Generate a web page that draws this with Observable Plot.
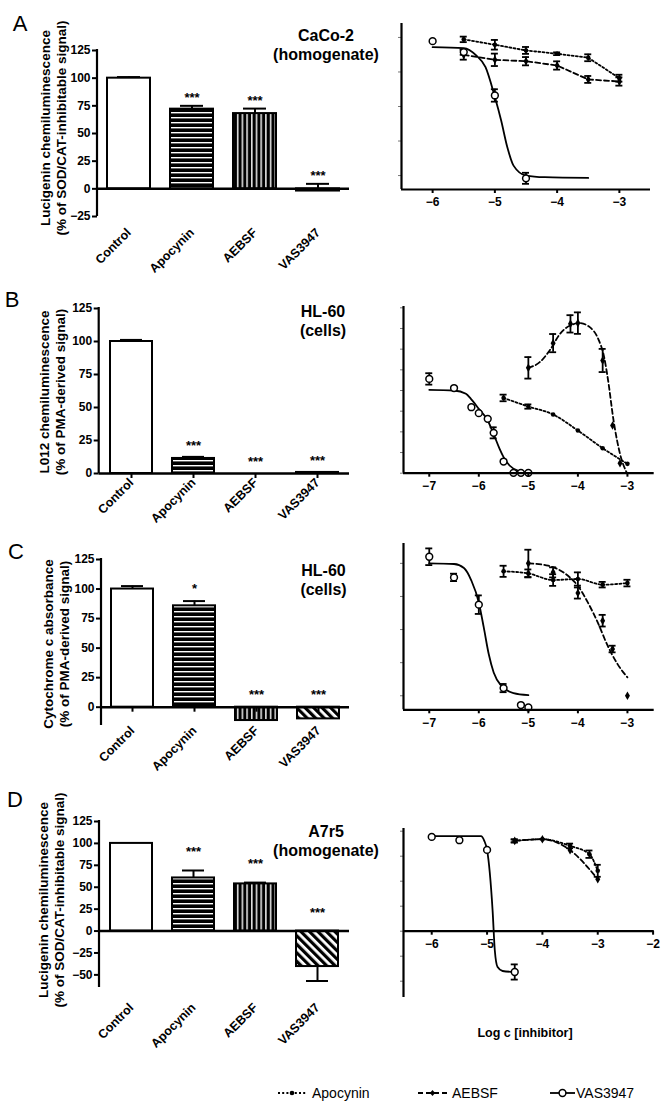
<!DOCTYPE html>
<html><head><meta charset="utf-8">
<script src="https://cdn.jsdelivr.net/npm/d3@7"></script>
<script src="https://cdn.jsdelivr.net/npm/@observablehq/plot@0.6"></script>
<style>
body{margin:0;background:#fff;}
#fig{position:relative;width:664px;height:1113px;background:#fff;font-family:'Liberation Sans',Arial,Helvetica,sans-serif;color:#000;overflow:hidden}
#fig svg{position:absolute;overflow:visible}
.abs{position:absolute;white-space:nowrap}
.title{font-weight:bold;font-size:16px;line-height:19px;text-align:center;transform:translateX(-50%)}
.ylab{font-weight:bold;font-size:13.5px;line-height:16px;text-align:center;transform:translate(-50%,-50%) rotate(-90deg)}
.letter{font-size:22px;line-height:22px;transform:translate(-50%,-50%)}
.leg{font-size:14px;line-height:16px;transform:translateY(-50%)}
</style></head><body>
<svg width="0" height="0" style="position:absolute"><defs>
<pattern id="pApo" patternUnits="userSpaceOnUse" width="8" height="5"><rect width="8" height="5" fill="#000"/><rect y="2" width="8" height="1.4" fill="#fff"/></pattern>
<pattern id="pAeb" patternUnits="userSpaceOnUse" width="4.7" height="8"><rect width="4.7" height="8" fill="#000"/><rect x="2" width="1.4" height="8" fill="#fff"/></pattern>
<pattern id="pVas" patternUnits="userSpaceOnUse" width="6" height="6" patternTransform="rotate(-45)"><rect width="6" height="6" fill="#fff"/><rect width="3.2" height="6" fill="#000"/></pattern>
</defs></svg>
<div id="fig"></div>
<script>
// ---------------- DATA ----------------
const categories = ["Control", "Apocynin", "AEBSF", "VAS3947"];
const panelLetters = ["A", "B", "C", "D"];
const titles = [["CaCo-2", "(homogenate)"], ["HL-60", "(cells)"], ["HL-60", "(cells)"], ["A7r5", "(homogenate)"]];
const yLabels = [
  ["Lucigenin chemiluminescence", "(% of SOD/CAT-inhibitable signal)"],
  ["L012 chemiluminescence", "(% of PMA-derived signal)"],
  ["Cytochrome c absorbance", "(% of PMA-derived signal)"],
  ["Lucigenin chemiluminescence", "(% of SOD/CAT-inhibitable signal)"]
];
const xAxisTitle = "Log c [inhibitor]";
const seriesNames = ["Apocynin", "AEBSF", "VAS3947"];

// bar charts (% values, signed error: + up, - down)
const barA = [100, 72, 68, -2];      const errA = [1, 3, 4.5, 6.5];    const starsA = ["", "***", "***", "***"];
const barB = [100, 11.4, 0, 0.8];    const errB = [1.2, 1.2, 0, 0];    const starsB = ["", "***", "***", "***"];
const barC = [100, 85.8, -11.3, -9.9]; const errC = [2.5, 4, 0, 0];    const starsC = ["", "*", "***", "***"];
const barD = [100, 60.6, 53.8, -40.5]; const errD = [0, 8.5, 1.5, -16.5]; const starsD = ["", "***", "***", "***"];
const barTicksA = [-25, 0, 25, 50, 75, 100, 125];
const barTicksB = [0, 25, 50, 75, 100, 125];
const barTicksC = [0, 25, 50, 75, 100, 125];
const barTicksD = [-50, -25, 0, 25, 50, 75, 100, 125];

// concentration-response (x = log c, y = %, e = SEM)
const apoA = {x: [-5.5, -5, -4.5, -4, -3.5, -3], y: [98.6, 94.7, 90.6, 88.2, 85.3, 70.5], e: [2, 3.5, 2.5, 1, 2.5, 2.5]};
const aebA = {x: [-5.5, -5, -4.5, -4, -3.5, -3], y: [87.4, 83.8, 82.8, 79.7, 69.6, 68.1], e: [3.5, 4.5, 3, 3, 2.5, 3]};
const vasA = {x: [-6, -5.5, -5, -4.5], y: [97.3, 89.4, 58, -2], e: [0, 2, 4.5, 4]};
const vasFitA = {x: [-6, -5.5, -5.3, -5.15, -5.0, -4.9, -4.8, -4.7, -4.5, -4.2, -3.5], y: [93, 92.3, 87, 78.5, 56.8, 40, 20.5, 7.2, 0, -1.2, -1.7]};
const apoB = {x: [-5.5, -5, -4.5, -4, -3.5, -3], y: [91, 80.6, 71, 51.6, 30.2, 11.3], e: [4, 2.6, 0, 0, 0, 0]};
const aebB = {x: [-5, -4.5, -4.15, -4, -3.5, -3.3, -3.15], y: [127.4, 157.3, 180.6, 181.5, 136.3, 57.7, 12.1], e: [13, 11, 10.5, 13, 14, 0, 0]};
const aebFitB = {x: [-5, -4.77, -4.57, -4.36, -4.16, -3.96, -3.76, -3.59, -3.47, -3.39, -3.28, -3.15, -3.01], y: [127.4, 134.3, 148.4, 168.5, 178.6, 181.5, 176.6, 162.5, 140.3, 112.1, 63.7, 23.4, 0]};
const vasB = {x: [-7, -6.5, -6.15, -6, -5.82, -5.7, -5.5, -5.3, -5.15, -5], y: [114, 103, 79.8, 72.6, 65.7, 48.8, 14.1, 0.4, 0.4, 0.4], e: [6.9, 0, 0, 0, 0, 6.7, 0, 0, 0, 0]};
const vasFitB = {x: [-7, -6.5, -6.26, -6.16, -6, -5.82, -5.69, -5.58, -5.5, -5.38, -5.18, -5], y: [100.8, 100, 96, 89.9, 77.8, 63.7, 45.6, 29.4, 19.4, 9.3, 2.4, 0.4]};
const apoC = {x: [-5.5, -5, -4.5, -4, -3.5, -3], y: [94, 92.4, 87.4, 88.2, 83.9, 85.1], e: [4.2, 3, 4.4, 5, 2.1, 2.5]};
const aebC = {x: [-5, -4.5, -4, -3.5, -3.3, -3], y: [100, 93.2, 77.6, 56.7, 35.3, 0], e: [10.3, 3.8, 4.2, 4.4, 2.5, 0]};
const aebFitC = {x: [-5, -4.6, -4.2, -4, -3.8, -3.6, -3.4, -3.2, -3], y: [100, 98.2, 90.6, 83, 70.5, 55.4, 37.8, 23.9, 13.9]};
const vasC = {x: [-7, -6.5, -6, -5.5, -5.15, -5], y: [105, 89.4, 68.8, 5.8, -7, -8.8], e: [6.3, 2.8, 7, 3.1, 0, 0]};
const vasFitC = {x: [-7, -6.5, -6.3, -6.15, -6, -5.9, -5.8, -5.7, -5.55, -5.3, -5], y: [100, 99.5, 96.5, 87, 70.5, 51.6, 31.5, 17.6, 7.6, 2, 0.5]};
const apoD = {x: [-4.5, -4, -3.5, -3.15, -3], y: [90.3, 92, 85.3, 77, 60.4], e: [1.5, 0, 2.3, 3.7, 6]};
const aebD = {x: [-4.5, -4, -3.5, -3], y: [90.3, 92, 81, 52], e: [1.5, 0, 0, 0]};
const vasD = {x: [-6, -5.5, -5, -4.5], y: [94.3, 91, 81.3, -40.8], e: [0, 0, 0, 7.6]};
const vasFitD = {x: [-6, -5.5, -5.11, -5.05, -5.0, -4.9, -4.86, -4.81, -4.72, -4.5], y: [95, 95, 95, 90.3, 81.3, 20.6, -19.3, -35.9, -39.8, -40.8]};

const doseXTicksA = [-6, -5, -4, -3];
const doseXTicksB = [-7, -6, -5, -4, -3];
const doseXTicksC = [-7, -6, -5, -4, -3];
const doseXTicksD = [-6, -5, -4, -3, -2];
const doseYTicksA = [0, 25, 50, 75, 100];
const doseYTicksB = [0, 25, 50, 75, 100, 125, 150, 175, 200];
const doseYTicksC = [0, 25, 50, 75, 100];
const doseYTicksD = [-50, -25, 0, 25, 50, 75, 100];

// ---------------- LAYOUT / STYLE ----------------
const FONT = "'Liberation Sans', Arial, Helvetica, sans-serif";
const barFills = ["#fff", "url(#pApo)", "url(#pAeb)", "url(#pVas)"];
const fmt = d => String(d).replace("-", "\u2212");
const barLayout = [
  {xAxis: 97,   y125: 50,    yBottom: 216,   yMin: -25,   labelPad: 14, starOff: 10.5, zeroTicks: false},
  {xAxis: 98.7, y125: 307.7, yBottom: 472.7, yMin: 0,     labelPad: 7,  starOff: 14,   zeroTicks: true},
  {xAxis: 101,  y125: 559,   yBottom: 725,   yMin: -15.5, labelPad: 3,  starOff: 15,   zeroTicks: true},
  {xAxis: 99,   y125: 820.7, yBottom: 986.7, yMin: -64.4, labelPad: 18, starOff: 21,   zeroTicks: false}
];
const xRight = 349;
const curveLayout = [
  {xl: 401, xr: 650,   yTop: 23,    yBottom: 189,   xd: [-6.5, -2.5],   yd: [-10.1, 110.1], axisAtZero: false},
  {xl: 403, xr: 653.7, yTop: 306,   yBottom: 472.7, xd: [-7.52, -2.46], yd: [0, 201.6],     axisAtZero: false},
  {xl: 403, xr: 653.7, yTop: 542.7, yBottom: 709,   xd: [-7.52, -2.46], yd: [-10.6, 115],   axisAtZero: false},
  {xl: 403, xr: 653.7, yTop: 828,   yBottom: 997,   xd: [-6.51, -1.98], yd: [-66.3, 102.7], axisAtZero: true}
];
const titleLayout = [{x: 326, y: 35}, {x: 323, y: 311.5}, {x: 323.5, y: 570}, {x: 326, y: 831}];
const yLabLayout = [{x: 54.2, y: 128}, {x: 52.9, y: 391.5}, {x: 56.5, y: 643.5}, {x: 51.7, y: 900}];
const letterLayout = [{x: 20, y: 23.5}, {x: 12, y: 300}, {x: 16, y: 552}, {x: 15, y: 800}];
const seriesStyle = {
  Apocynin: {dash: "2,2.2", symbol: "circle", r: 2.3, fill: "black", stroke: "none", sw: 0},
  AEBSF: {dash: "5,3", symbol: "diamond", r: 2.6, fill: "black", stroke: "none", sw: 0},
  VAS3947: {dash: null, symbol: "circle", r: 3.4, fill: "white", stroke: "black", sw: 1.5}
};

const fig = document.getElementById("fig");
function place(node, left, top) {
  node.style.left = left + "px"; node.style.top = top + "px";
  fig.appendChild(node);
}
function div(cls, html, left, top) {
  const d = document.createElement("div");
  d.className = "abs " + cls; d.innerHTML = html;
  place(d, left, top);
  return d;
}

// ---------------- BAR PANELS ----------------
function barPanel(vals, errs, stars, ticks, L) {
  const rows = categories.map((c, i) => ({cat: c, value: vals[i], err: errs[i], star: stars[i], fill: barFills[i]}));
  const top0 = L.y125 - 10;
  const H = (L.yBottom - top0) + 80;
  const withErr = rows.filter(r => r.err !== 0);
  const marks = [
    Plot.barY(rows, {x: "cat", y: "value", fill: "fill", stroke: "black", strokeWidth: 2}),
    Plot.ruleX(withErr, {x: "cat", y1: "value", y2: d => d.value + d.err, strokeWidth: 2}),
    Plot.tickY(withErr, {x: "cat", y: d => d.value + d.err, insetLeft: 10, insetRight: 10, strokeWidth: 2}),
    Plot.ruleY([0], {strokeWidth: 2.5}),
    Plot.axisY({ticks, label: null, tickSize: 5, tickPadding: 2, strokeWidth: 2, fontSize: 12, fontWeight: "bold", tickFormat: fmt}),
    (index, scales, values, dims) => {
      const l = document.createElementNS("http://www.w3.org/2000/svg", "line");
      l.setAttribute("x1", dims.marginLeft); l.setAttribute("x2", dims.marginLeft);
      l.setAttribute("y1", dims.marginTop - 1); l.setAttribute("y2", dims.height - dims.marginBottom);
      l.setAttribute("stroke", "black"); l.setAttribute("stroke-width", 2.2);
      return l;
    },
    Plot.axisX({label: null, tickRotate: -45, tickSize: 0, tickPadding: L.labelPad, fontSize: 12.5, fontWeight: "bold"}),
    Plot.text(rows.filter(r => r.star), {x: "cat", y: d => Math.max(d.value, d.value + d.err, 0), text: "star",
      dy: -L.starOff + 2.5, fontSize: 13, fontWeight: "bold"})
  ];
  if (L.zeroTicks) marks.push(Plot.ruleX(categories, {x: d => d, y1: 0, y2: 0, insetBottom: -5, strokeWidth: 2}));
  const svg = Plot.plot({
    width: xRight + 6, height: H,
    marginTop: L.y125 - top0, marginBottom: H - (L.yBottom - top0), marginLeft: L.xAxis, marginRight: 6,
    x: {type: "band", domain: categories, paddingInner: 0.32, paddingOuter: 0.16, label: null},
    y: {domain: [L.yMin, 125], label: null},
    color: {type: "identity"},
    style: {fontFamily: FONT, fontSize: "12px", fontWeight: "bold", background: "transparent", color: "black", overflow: "visible"},
    marks
  });
  place(svg, 0, top0);
}

// ---------------- DOSE-RESPONSE PANELS ----------------
function toPts(s) { return s.x.map((x, i) => ({x, y: s.y[i], e: s.e ? s.e[i] : 0})); }
function curvePanel(series, xt, yt, L) {
  const top0 = L.yTop - 10;
  const H = (L.yBottom - top0) + 30;
  const axisAt = L.axisAtZero ? 0 : L.yd[0];
  const lines = [], errs = [], dots = [];
  for (const s of series) {
    const st = seriesStyle[s.name];
    const pts = toPts(s.pts);
    const crv = s.fit ? toPts(s.fit) : pts;
    lines.push(Plot.line(crv, {x: "x", y: "y", curve: s.curve, stroke: "black", strokeWidth: 1.8, strokeDasharray: st.dash}));
    const we = pts.filter(d => d.e > 0);
    errs.push(
      Plot.ruleX(we, {x: "x", y1: d => d.y - d.e, y2: d => d.y + d.e, strokeWidth: 1.8}),
      Plot.ruleY(we, {y: d => d.y + d.e, x1: "x", x2: "x", insetLeft: -3.5, insetRight: -3.5, strokeWidth: 1.8}),
      Plot.ruleY(we, {y: d => d.y - d.e, x1: "x", x2: "x", insetLeft: -3.5, insetRight: -3.5, strokeWidth: 1.8})
    );
    dots.push(Plot.dot(pts, {x: "x", y: "y", r: st.r, symbol: st.symbol, fill: st.fill, stroke: st.stroke, strokeWidth: st.sw}));
  }
  const svg = Plot.plot({
    width: 664 - 340, height: H,
    marginLeft: L.xl - 340, marginRight: 664 - L.xr, marginTop: L.yTop - top0, marginBottom: H - (L.yBottom - top0),
    x: {domain: L.xd, axis: null, label: null},
    y: {domain: L.yd, label: null},
    style: {fontFamily: FONT, fontSize: "12px", background: "transparent", color: "black", overflow: "visible"},
    marks: [
      Plot.axisY({ticks: yt, label: null, tickSize: 3, tickFormat: () => "", stroke: "#777", strokeWidth: 1}),
      ...lines, ...errs, ...dots,
      Plot.ruleX([L.xd[0]], {strokeWidth: 2.2}),
      Plot.ruleY([axisAt], {strokeWidth: 2.2}),
      Plot.ruleX(xt, {x: d => d, y1: axisAt, y2: axisAt, insetBottom: -4, strokeWidth: 2}),
      Plot.text(xt, {x: d => d, y: axisAt, dy: 13, text: d => fmt(d), fontSize: 12, fontWeight: "bold"})
    ]
  });
  place(svg, 340, top0);
}

barPanel(barA, errA, starsA, barTicksA, barLayout[0]);
barPanel(barB, errB, starsB, barTicksB, barLayout[1]);
barPanel(barC, errC, starsC, barTicksC, barLayout[2]);
barPanel(barD, errD, starsD, barTicksD, barLayout[3]);

curvePanel([
  {name: "Apocynin", pts: apoA, curve: "linear"},
  {name: "AEBSF", pts: aebA, curve: "linear"},
  {name: "VAS3947", pts: vasA, fit: vasFitA, curve: "monotone-x"}
], doseXTicksA, doseYTicksA, curveLayout[0]);
curvePanel([
  {name: "Apocynin", pts: apoB, curve: "monotone-x"},
  {name: "AEBSF", pts: aebB, fit: aebFitB, curve: "monotone-x"},
  {name: "VAS3947", pts: vasB, fit: vasFitB, curve: "monotone-x"}
], doseXTicksB, doseYTicksB, curveLayout[1]);
curvePanel([
  {name: "Apocynin", pts: apoC, curve: "monotone-x"},
  {name: "AEBSF", pts: aebC, fit: aebFitC, curve: "monotone-x"},
  {name: "VAS3947", pts: vasC, fit: vasFitC, curve: "monotone-x"}
], doseXTicksC, doseYTicksC, curveLayout[2]);
curvePanel([
  {name: "Apocynin", pts: apoD, curve: "monotone-x"},
  {name: "AEBSF", pts: aebD, curve: "monotone-x"},
  {name: "VAS3947", pts: vasD, fit: vasFitD, curve: "monotone-x"}
], doseXTicksD, doseYTicksD, curveLayout[3]);

// ---------------- TEXT ----------------
panelLetters.forEach((t, i) => div("letter", t, letterLayout[i].x, letterLayout[i].y));
titles.forEach((t, i) => div("title", t.join("<br>"), titleLayout[i].x, titleLayout[i].y - 9.5));
yLabels.forEach((t, i) => div("ylab", t.join("<br>"), yLabLayout[i].x, yLabLayout[i].y));
const xt = div("", xAxisTitle, 525, 1033);
xt.style.fontWeight = "bold"; xt.style.fontSize = "12.5px"; xt.style.transform = "translate(-50%,-50%)";

// ---------------- LEGEND ----------------
const legY = 1093;
const legItems = [
  {name: "Apocynin", x0: 278, x1: 306, tx: 312},
  {name: "AEBSF", x0: 418, x1: 447, tx: 452},
  {name: "VAS3947", x0: 550, x1: 575, tx: 576}
];
legItems.forEach((it, i) => {
  const st = seriesStyle[seriesNames[i]];
  const w = it.x1 - it.x0;
  const s = document.createElementNS("http://www.w3.org/2000/svg", "svg");
  s.setAttribute("width", w); s.setAttribute("height", 12);
  let m;
  if (st.symbol === "diamond") m = `<path d="M${w/2},3 L${w/2+2.6},6 L${w/2},9 L${w/2-2.6},6Z" fill="black"/>`;
  else m = `<circle cx="${w/2}" cy="6" r="${st.r}" fill="${st.fill}" stroke="${st.stroke}" stroke-width="${st.sw}"/>`;
  s.innerHTML = `<line x1="0" x2="${w}" y1="6" y2="6" stroke="black" stroke-width="1.8" ${st.dash ? `stroke-dasharray="${st.dash}"` : ""}/>` + m;
  place(s, it.x0, legY - 6);
  div("leg", it.name, it.tx, legY);
});
</script></body></html>
